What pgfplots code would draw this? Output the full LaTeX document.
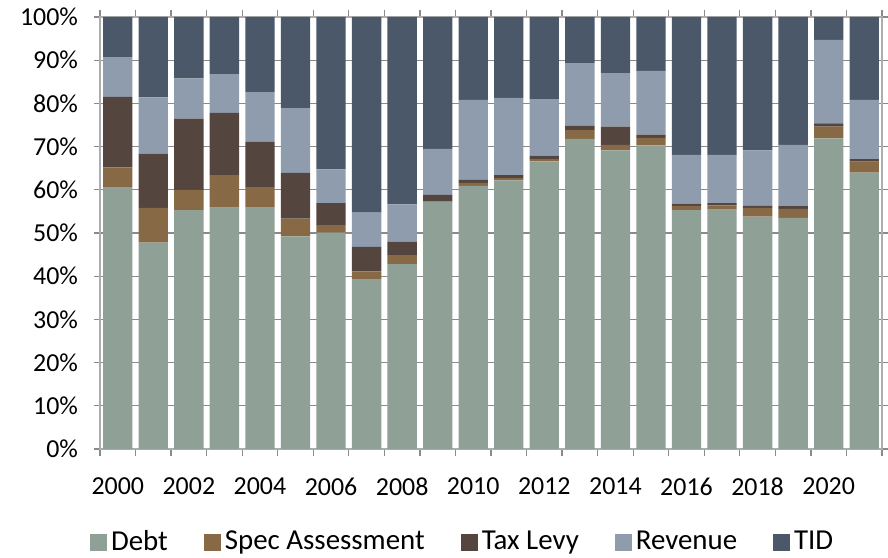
\documentclass[border=0pt]{standalone}
\usepackage{pgfplots}
\usepackage{pgfplotstable}
\pgfplotsset{compat=1.18}
\usepackage{fontspec}
\setmainfont{Carlito}
\definecolor{cDebt}{HTML}{8FA096}
\definecolor{cSpec}{HTML}{876A45}
\definecolor{cTax}{HTML}{54453E}
\definecolor{cRev}{HTML}{8F9CAD}
\definecolor{cTID}{HTML}{4A5869}
\definecolor{cGrid}{HTML}{8A8A8A}
\pgfplotstableread{
x debt spec tax rev tid
0 60.6 4.6 16.3 9.2 9.3
1 47.8 8.0 12.6 13.0 18.6
2 55.3 4.7 16.5 9.3 14.2
3 55.9 7.5 14.4 9.0 13.2
4 56.0 4.6 10.5 11.5 17.4
5 49.2 4.1 10.6 15.0 21.1
6 50.1 1.7 5.1 7.8 35.3
7 39.3 1.8 5.7 7.9 45.3
8 42.8 2.1 3.1 8.6 43.4
9 57.2 0.1 1.5 10.7 30.5
10 60.9 0.7 0.7 18.5 19.2
11 62.2 0.5 0.7 17.9 18.7
12 66.6 0.5 0.8 13.1 19.0
13 71.8 2.0 1.0 14.5 10.7
14 69.1 1.3 4.2 12.4 13.0
15 70.3 1.7 0.8 14.7 12.5
16 55.3 1.0 0.5 11.3 31.9
17 55.4 1.0 0.5 11.2 31.9
18 53.8 2.0 0.5 12.8 30.9
19 53.5 2.1 0.6 14.2 29.6
20 71.9 2.7 0.8 19.3 5.3
21 64.0 2.5 0.6 13.7 19.2
}\datatable
\begin{document}
\fontsize{13}{15}\selectfont
\begin{tikzpicture}
\useasboundingbox (-50bp,-54.5bp) rectangle (394bp,224.5bp);
\begin{axis}[
  scale only axis,
  width=391bp, height=216bp,
  ybar stacked,
  bar width=0.825,
  xmin=-0.5, xmax=21.5,
  ymin=0, ymax=100,
  xtick={0,2,...,20},
  xticklabels={2000,2002,2004,2006,2008,2010,2012,2014,2016,2018,2020},
  minor xtick={-0.5,0.5,...,21.5},
  ytick={0,10,...,100},
  yticklabel={\pgfmathprintnumber{\tick}\%},
  /pgf/number format/assume math mode=true,
  tick align=outside,
  major tick length=3bp,
  minor tick length=3.5bp,
  xtick style={draw=none},
  minor x tick style={draw=cGrid, line width=0.6bp},
  ytick style={draw=cGrid, line width=0.6bp},
  ymajorgrids,
  grid style={cGrid, line width=0.6bp},
  axis line style={cGrid!70, line width=0.6bp},
  tick label style={font=\fontsize{13}{15}\selectfont, text=black},
  yticklabel style={xshift=-3.5bp},
  xticklabel style={yshift=-7bp},
  legend style={
    at={(0.465,-0.169)}, anchor=north, draw=none,
    legend columns=-1,
    font=\fontsize{14.5}{16}\selectfont,
    /tikz/every even column/.append style={column sep=16bp},
  },
  legend image code/.code={\fill[#1] (0bp,-4.25bp) rectangle (8.5bp,4.25bp);},
]
\addplot[fill=cDebt, draw=none] table[x=x, y=debt] {\datatable};
\addplot[fill=cSpec, draw=none] table[x=x, y=spec] {\datatable};
\addplot[fill=cTax, draw=none] table[x=x, y=tax] {\datatable};
\addplot[fill=cRev, draw=none] table[x=x, y=rev] {\datatable};
\addplot[fill=cTID, draw=none] table[x=x, y=tid] {\datatable};
\legend{Debt, Spec Assessment, Tax Levy, Revenue, TID}
\end{axis}
\end{tikzpicture}
\end{document}
